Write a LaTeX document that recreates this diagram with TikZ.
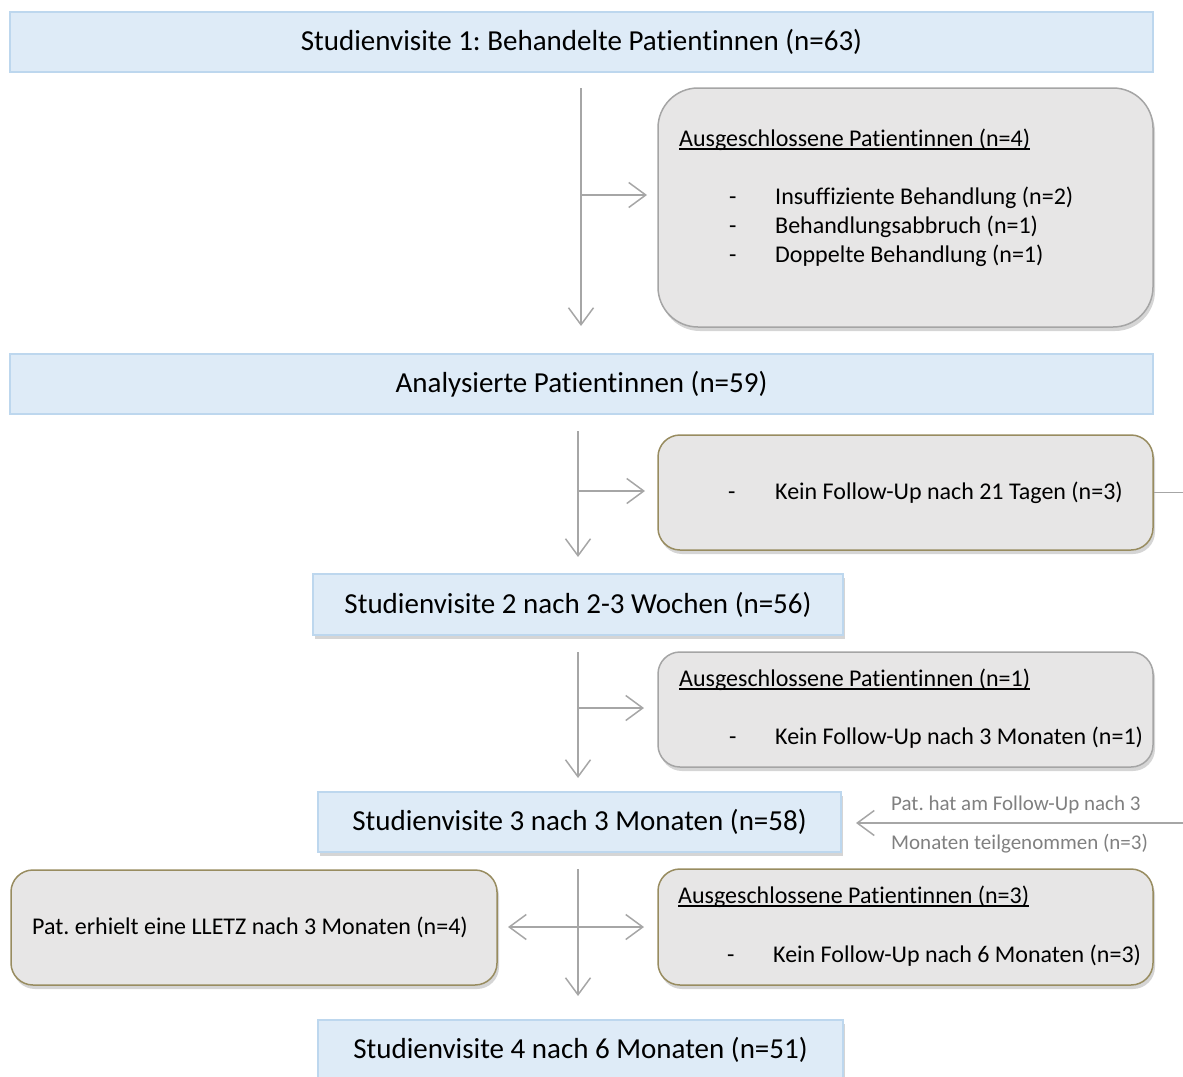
\documentclass[tikz,border=0pt]{standalone}
\usepackage{fontspec}
\setmainfont{Carlito}[Ligatures={NoCommon}]
\usetikzlibrary{arrows.meta,shadows}
\definecolor{bluefill}{RGB}{222,235,247}
\definecolor{blueline}{RGB}{189,215,238}
\definecolor{greyfill}{RGB}{231,230,230}
\definecolor{greyline}{RGB}{165,165,165}
\definecolor{tanline}{RGB}{152,140,96}
\definecolor{conncol}{RGB}{166,166,166}
\definecolor{labgrey}{RGB}{128,128,128}
\newcommand\myul[1]{\setbox0\hbox{#1}\rlap{\rule[-3.5pt]{\wd0}{1.4pt}}\box0}
\frenchspacing
\begin{document}
\begin{tikzpicture}[x=1pt,y=-1pt,
  bluebox/.style={draw=blueline, line width=1.2pt, fill=bluefill, inner sep=0pt,
    font=\fontsize{29}{35}\selectfont},
  bshadow/.style={drop shadow={shadow xshift=2pt, shadow yshift=-4pt, opacity=0.3, fill=black!55}},
  greybox/.style={draw=greyline, line width=1.5pt, fill=greyfill, rounded corners=22pt,
    inner sep=0pt, font=\fontsize{24}{29}\selectfont,
    drop shadow={shadow xshift=2pt, shadow yshift=-4pt, opacity=0.3, fill=black!55}},
  tanbox/.style={greybox, draw=tanline},
  txt/.style={inner sep=0pt, anchor=base west, font=\fontsize{24}{29}\selectfont},
  lab/.style={inner sep=0pt, anchor=base west, text=labgrey, font=\fontsize{21}{25}\selectfont},
  arr/.style={draw=conncol, line width=1.5pt, -{Straight Barb[length=17pt,width=25pt,line width=1.5pt]}},
  plain/.style={draw=conncol, line width=1.5pt}
]
\useasboundingbox (0,0) rectangle (1183,1076);

% main boxes
\node[bluebox, minimum width=1143pt, minimum height=60pt] (sv1) at (581.5,42)
  {Studienvisite 1: Behandelte Patientinnen (n=63)};
\node[bluebox, minimum width=1143pt, minimum height=60pt] (ana) at (581.5,384)
  {Analysierte Patientinnen (n=59)};
\node[bluebox, bshadow, minimum width=530pt, minimum height=61pt] (sv2) at (578,604.5)
  {Studienvisite 2 nach 2-3 Wochen (n=56)};
\node[bluebox, bshadow, minimum width=523pt, minimum height=60pt] (sv3) at (579.5,822)
  {Studienvisite 3 nach 3 Monaten (n=58)};
\node[bluebox, bshadow, minimum width=525pt, minimum height=60pt] (sv4) at (580.5,1050)
  {Studienvisite 4 nach 6 Monaten (n=51)};

% side boxes
\node[greybox, rounded corners=40pt, minimum width=495pt, minimum height=239pt] (ex1) at (905.5,207.5) {};
\node[txt] (ex1h) at (679,146) {\myul{Ausgeschlossene Patientinnen (n=4)}};
\node[txt] (ex1d1) at (729,204) {-};
\node[txt] (ex1t1) at (775,204) {Insuffiziente Behandlung (n=2)};
\node[txt] (ex1d2) at (729,233) {-};
\node[txt] (ex1t2) at (775,233) {Behandlungsabbruch (n=1)};
\node[txt] (ex1d3) at (729,262) {-};
\node[txt] (ex1t3) at (775,262) {Doppelte Behandlung (n=1)};

\node[tanbox, minimum width=495pt, minimum height=115pt] (ex2) at (905.5,492.5) {};
\node[txt] (ex2d) at (728,499) {-};
\node[txt] (ex2t) at (775,499) {Kein Follow-Up nach 21 Tagen (n=3)};

\node[greybox, minimum width=495pt, minimum height=115pt] (ex3) at (905.5,709.5) {};
\node[txt] (ex3h) at (679,686) {\myul{Ausgeschlossene Patientinnen (n=1)}};
\node[txt] (ex3d) at (729,744) {-};
\node[txt] (ex3t) at (775,744) {Kein Follow-Up nach 3 Monaten (n=1)};

\node[tanbox, minimum width=486pt, minimum height=115pt] (llz) at (254,927.5)
  {\hspace*{-8pt}Pat. erhielt eine LLETZ nach 3 Monaten (n=4)};

\node[tanbox, minimum width=495pt, minimum height=116pt] (ex4) at (905.5,927) {};
\node[txt] (ex4h) at (678,903) {\myul{Ausgeschlossene Patientinnen (n=3)}};
\node[txt] (ex4d) at (727,962) {-};
\node[txt] (ex4t) at (773,962) {Kein Follow-Up nach 6 Monaten (n=3)};

% labels
\node[lab] (l1) at (891,810) {Pat. hat am Follow-Up nach 3};
\node[lab] (l2) at (891,849) {Monaten teilgenommen (n=3)};

% connector coordinates
\coordinate (v1a) at (581,88);  \coordinate (v1b) at (581,326);
\coordinate (b1) at (581,195);  \coordinate (b1e) at (647,195);
\coordinate (v2a) at (578,431); \coordinate (v2b) at (578,557);
\coordinate (b2) at (578,491);  \coordinate (b2e) at (645,491);
\coordinate (v3a) at (578,652); \coordinate (v3b) at (578,778);
\coordinate (b3) at (578,708);  \coordinate (b3e) at (644,708);
\coordinate (v4a) at (578,869); \coordinate (v4b) at (578,996);
\coordinate (b4) at (578,927);  \coordinate (b4r) at (644,927); \coordinate (b4l) at (508,927);
\coordinate (re1) at (1183,491);
\coordinate (re2) at (1183,823); \coordinate (sv3tip) at (856,823);

\draw[arr] (v1a) -- (v1b);
\draw[arr] (b1) -- (b1e);
\draw[arr] (v2a) -- (v2b);
\draw[arr] (b2) -- (b2e);
\draw[plain] (ex2.east) -- (ex2.east -| re1);
\draw[arr] (v3a) -- (v3b);
\draw[arr] (b3) -- (b3e);
\draw[arr] (re2) -- (sv3tip);
\draw[arr] (v4a) -- (v4b);
\draw[arr] (b4) -- (b4r);
\draw[arr] (b4) -- (b4l);
\end{tikzpicture}
\end{document}
